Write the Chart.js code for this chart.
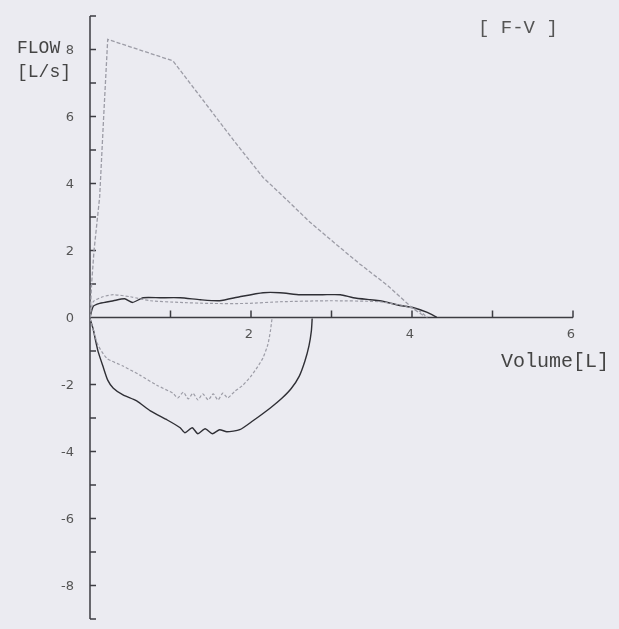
<!DOCTYPE html>
<html lang="en">
<head>
  <meta charset="UTF-8" />
  <title>F-V</title>
  <script src="https://cdn.jsdelivr.net/npm/chart.js"></script>
  <style>
    body {
      margin: 0;
      background-color: #ebebf1;
    }
    .wrap {
      position: relative;
      width: 619px;
      height: 629px;
    }
    .lbl {
      position: absolute;
      font-family: "Liberation Mono", monospace;
      color: #444;
      line-height: 20px;
      white-space: pre;
    }
  </style>
</head>
<body>
  <div class="wrap">
    <canvas id="fvChart"></canvas>
    <div class="lbl" style="left:478px; top:18px; font-size:19px; color:#555;">[ F-V ]</div>
    <div class="lbl" style="left:17px; top:38px; font-size:18px;">FLOW</div>
    <div class="lbl" style="left:17px; top:62px; font-size:18px;">[L/s]</div>
    <div class="lbl" style="left:501px; top:352px; font-size:20px;">Volume[L]</div>
  </div>

  <script>
    // forced expiration (gray dashed)
    const forcedVol  = [0, 0.02, 0.05, 0.12, 0.17, 0.22, 0.60, 1.03, 1.40, 1.78, 2.15, 2.45, 2.73, 3.05, 3.35, 3.70, 4.01, 4.16];
    const forcedFlow = [0, 1.0, 2.0, 3.6, 6.0, 8.3, 8.0, 7.66, 6.50, 5.30, 4.18, 3.50, 2.85, 2.20, 1.60, 0.95, 0.27, 0.03];

    // slow expiration, gray
    const slowGrayVol  = [0, 0.04, 0.16, 0.29, 0.50, 0.75, 1.12, 1.49, 1.95, 2.36, 2.98, 3.60, 3.94, 4.10, 4.19];
    const slowGrayFlow = [0, 0.47, 0.62, 0.68, 0.62, 0.50, 0.45, 0.42, 0.42, 0.47, 0.50, 0.47, 0.33, 0.18, 0];

    // slow expiration, dark
    const slowDarkVol  = [0, 0.04, 0.12, 0.29, 0.43, 0.53, 0.66, 0.87, 1.12, 1.37, 1.61, 1.86, 2.15, 2.36, 2.61, 2.89, 3.11, 3.27, 3.48, 3.60, 3.85, 4.01, 4.19, 4.31];
    const slowDarkFlow = [0, 0.33, 0.42, 0.50, 0.56, 0.45, 0.59, 0.59, 0.59, 0.53, 0.50, 0.62, 0.74, 0.74, 0.68, 0.68, 0.68, 0.59, 0.53, 0.50, 0.36, 0.30, 0.15, 0];

    // inspiration, gray
    const inspGrayVol  = [0, 0.05, 0.10, 0.21, 0.41, 0.62, 0.83, 1.03, 1.09, 1.16, 1.22, 1.28, 1.34, 1.40, 1.47, 1.53, 1.59, 1.65, 1.71, 1.80, 1.90, 2.00, 2.08, 2.15, 2.21, 2.24, 2.26];
    const inspGrayFlow = [-0.03, -0.45, -0.83, -1.22, -1.45, -1.72, -2.02, -2.26, -2.40, -2.23, -2.43, -2.26, -2.46, -2.28, -2.46, -2.28, -2.46, -2.26, -2.40, -2.20, -2.02, -1.75, -1.48, -1.20, -0.80, -0.42, -0.05];

    // inspiration, dark
    const inspDarkVol  = [0, 0.04, 0.07, 0.10, 0.16, 0.22, 0.29, 0.41, 0.58, 0.75, 0.96, 1.12, 1.18, 1.27, 1.34, 1.43, 1.52, 1.61, 1.70, 1.86, 2.02, 2.24, 2.38, 2.50, 2.60, 2.67, 2.72, 2.75, 2.76];
    const inspDarkFlow = [-0.03, -0.35, -0.70, -1.01, -1.45, -1.87, -2.11, -2.31, -2.49, -2.79, -3.06, -3.29, -3.44, -3.29, -3.47, -3.32, -3.47, -3.35, -3.41, -3.35, -3.09, -2.70, -2.42, -2.12, -1.75, -1.30, -0.85, -0.40, -0.03];

    const flowLabels = [-8, -6, -4, -2, 0, 2, 4, 6, 8];
    const volLabels = [2, 4, 6];

    function pts(xs, ys) {
      return xs.map((v, i) => ({ x: v, y: ys[i] }));
    }

    const gray = '#9c9ca6';
    const dark = '#2f2f35';

    // axes drawn by hand so ticks face inward like the printout
    const axesPlugin = {
      id: 'fvAxes',
      beforeDatasetsDraw(chart) {
        const ctx = chart.ctx;
        const sx = chart.scales.x, sy = chart.scales.y;
        const x0 = sx.getPixelForValue(0), y0 = sy.getPixelForValue(0);
        ctx.save();
        ctx.strokeStyle = '#3c3c42';
        ctx.lineWidth = 1.5;
        ctx.beginPath();
        ctx.moveTo(x0, sy.getPixelForValue(9));
        ctx.lineTo(x0, sy.getPixelForValue(-9));
        for (let v = -9; v <= 9; v++) {
          const py = sy.getPixelForValue(v);
          ctx.moveTo(x0, py);
          ctx.lineTo(x0 + 6, py);
        }
        ctx.moveTo(x0, y0);
        ctx.lineTo(sx.getPixelForValue(6), y0);
        for (let v = 1; v <= 6; v++) {
          const px = sx.getPixelForValue(v);
          ctx.moveTo(px, y0);
          ctx.lineTo(px, y0 - 7);
        }
        ctx.stroke();

        ctx.fillStyle = '#555';
        ctx.font = '13px "DejaVu Sans", sans-serif';
        ctx.textAlign = 'right';
        ctx.textBaseline = 'middle';
        flowLabels.forEach(v => {
          ctx.fillText(v < 0 ? '-' + Math.abs(v) : String(v), x0 - 16, sy.getPixelForValue(v) + 1);
        });
        ctx.textAlign = 'center';
        volLabels.forEach(v => {
          ctx.fillText(String(v), sx.getPixelForValue(v) - 2, y0 + 17);
        });
        ctx.restore();
      }
    };

    new Chart(document.getElementById('fvChart'), {
      type: 'scatter',
      data: {
        datasets: [
          { data: pts(forcedVol, forcedFlow), borderColor: gray, borderWidth: 1.3, borderDash: [4, 2] },
          { data: pts(slowGrayVol, slowGrayFlow), borderColor: gray, borderWidth: 1.2, borderDash: [3, 2], tension: 0.2 },
          { data: pts(inspGrayVol, inspGrayFlow), borderColor: gray, borderWidth: 1.2, borderDash: [3, 2], tension: 0.2 },
          { data: pts(slowDarkVol, slowDarkFlow), borderColor: dark, borderWidth: 1.4, tension: 0.2 },
          { data: pts(inspDarkVol, inspDarkFlow), borderColor: dark, borderWidth: 1.4, tension: 0.2 }
        ]
      },
      options: {
        responsive: true,
        maintainAspectRatio: false,
        animation: false,
        showLine: true,
        elements: { point: { radius: 0 }, line: { tension: 0, fill: false } },
        layout: { padding: { left: 90, right: 46, top: 16, bottom: 10 } },
        plugins: { legend: { display: false }, tooltip: { enabled: false } },
        scales: {
          x: { type: 'linear', min: 0, max: 6, display: false },
          y: { type: 'linear', min: -9, max: 9, display: false }
        }
      },
      plugins: [axesPlugin]
    });
  </script>
</body>
</html>
